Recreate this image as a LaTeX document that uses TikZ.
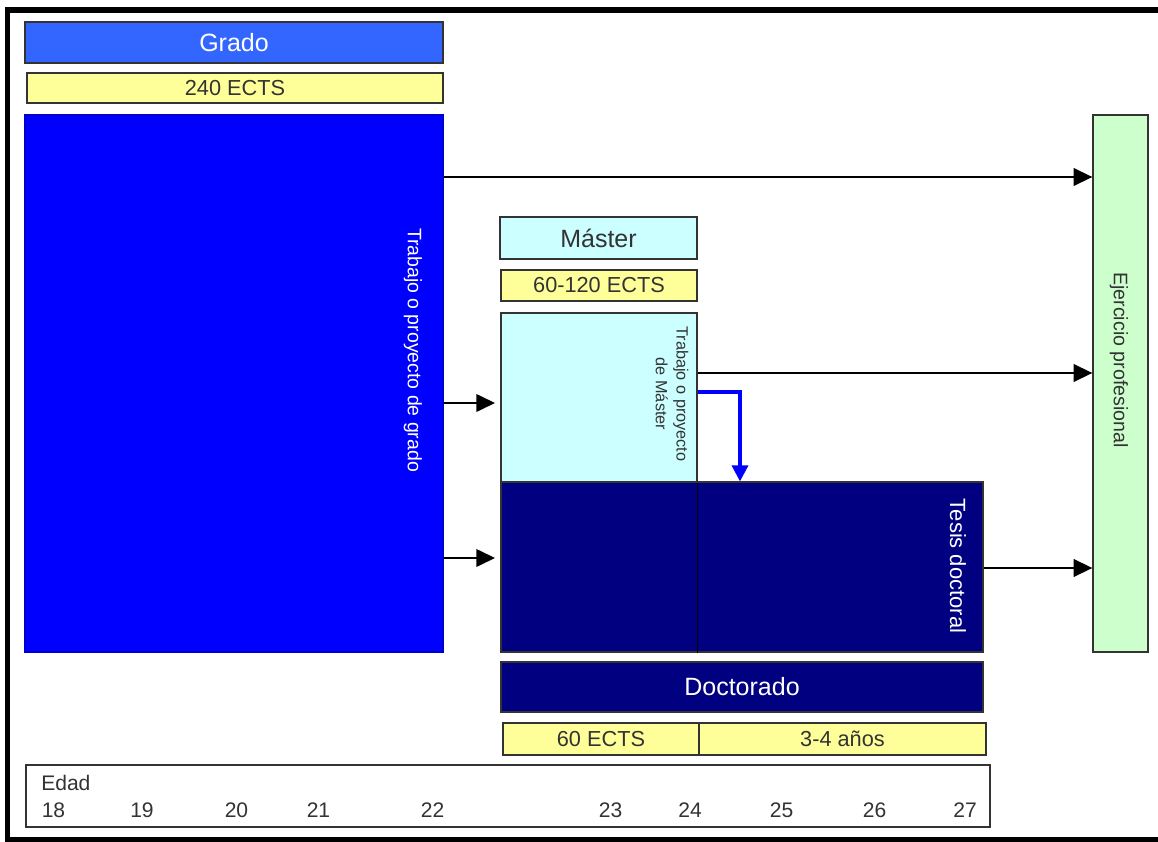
\documentclass[tikz,border=0pt]{standalone}
\usepackage{fontspec}
\setmainfont{Liberation Sans}
\usetikzlibrary{fit,arrows.meta}
\definecolor{gradoblue}{HTML}{3366FF}
\definecolor{ectsyellow}{HTML}{FFFF99}
\definecolor{bigblue}{HTML}{0000FF}
\definecolor{mastercyan}{HTML}{CCFFFF}
\definecolor{navy}{HTML}{000080}
\definecolor{ejgreen}{HTML}{CCFFCC}
\definecolor{txtdark}{HTML}{333333}
\tikzset{
  boxed/.style={draw=txtdark, line width=0.9pt, inner sep=0pt},
  bigtext/.style={font=\fontsize{18.75}{22}\selectfont, text=txtdark},
  ectstext/.style={font=\fontsize{16.3}{19}\selectfont, text=txtdark},
  agetext/.style={font=\fontsize{15.8}{18}\selectfont, text=txtdark, inner sep=0pt},
  arr/.style={line width=1.9pt, -{Triangle[length=14pt,width=13pt]}},
  bluearr/.style={draw=bigblue, line width=2.6pt, -{Triangle[length=12pt,width=12pt]}},
}
\begin{document}
\begin{tikzpicture}[x=0.75pt,y=-0.75pt]
\useasboundingbox (0,0) rectangle (1158,842);
\fill[white] (0,0) rectangle (1158,842);
% outer frame
\draw[line width=3.8pt] (1162,10) -- (7.5,10) -- (7.5,840) -- (1162,840);

% Grado
\node[boxed, fill=gradoblue, fit={(25,22)(443,63)}] (grado) {};
\node[bigtext, text=white] (gradotxt) at (grado.center) {Grado};
\node[boxed, fill=ectsyellow, fit={(27,73)(443,103)}] (gects) {};
\node[ectstext] (gectstxt) at (gects.center) {240 ECTS};
\node[boxed, draw=bigblue!80!black, fill=bigblue, fit={(25,115)(443,652)}] (gbox) {};
\node[rotate=-90, text=white, font=\fontsize{14.6}{17}\selectfont] (gtxt) at (413,350) {Trabajo o proyecto de grado};

% Ejercicio profesional
\node[boxed, fill=ejgreen, fit={(1093,115)(1148,652)}] (ej) {};
\node[rotate=-90, text=txtdark, font=\fontsize{14.7}{17}\selectfont] (ejtxt) at (1119,360) {Ejercicio profesional};

% Master
\node[boxed, fill=mastercyan, fit={(500,217)(697,259)}] (master) {};
\node[bigtext] (mastertxt) at (master.center) {Máster};
\node[boxed, fill=ectsyellow, fit={(501,270)(697,301)}] (mects) {};
\node[ectstext] (mectstxt) at (mects.center) {60-120 ECTS};
\node[boxed, fill=mastercyan, fit={(501,313)(697,482)}] (mbox) {};
\node[rotate=-90, text=txtdark, align=center, font=\fontsize{12.2}{15.5}\selectfont] (mtxt) at (672,394) {Trabajo o proyecto\\de Máster};

% Doctorado
\node[boxed, fill=navy, fit={(501,482)(983,652)}] (dbox) {};
\draw[line width=1.1pt, black] (mbox.south east) -- (dbox.south -| mbox.east);
\node[rotate=-90, text=white, font=\fontsize{16.5}{19}\selectfont] (dtxt) at (958,566) {Tesis doctoral};
\node[boxed, fill=navy, fit={(501,662)(983,712)}] (doct) {};
\node[bigtext, text=white] (docttxt) at (doct.center) {Doctorado};
\node[boxed, fill=ectsyellow, fit={(503,723)(699,755)}] (dects) {};
\node[ectstext] (dectstxt) at (dects.center) {60 ECTS};
\node[boxed, fill=ectsyellow, fit={(699,723)(986,755)}] (danos) {};
\node[ectstext] (danostxt) at (danos.center) {3-4 años};

% Edad
\node[boxed, fill=white, fit={(26,765)(990,827)}] (edad) {};
\node[agetext, anchor=west] (edadlbl) at (41,783) {Edad};
\foreach \n/\x in {18/53.5,19/142,20/236.5,21/318.5,22/432.5,23/610.5,24/690,25/781.5,26/874.5,27/965}{
  \node[agetext] (age\n) at (\x,810) {\n};
}

% connectors
\coordinate (r1) at (0,177);
\coordinate (r2) at (0,403);
\coordinate (r3) at (0,558);
\coordinate (r4) at (0,373);
\coordinate (r5) at (0,392);
\coordinate (r6) at (0,568);
\coordinate (bx) at (740,0);
\draw[arr] (gbox.east |- r1) -- (ej.west |- r1);
\draw[arr, shorten >=4pt] (gbox.east |- r2) -- (mbox.west |- r2);
\draw[arr, shorten >=4pt] (gbox.east |- r3) -- (dbox.west |- r3);
\draw[arr] (mbox.east |- r4) -- (ej.west |- r4);
\draw[arr] (dbox.east |- r6) -- (ej.west |- r6);
\draw[bluearr] (mbox.east |- r5) -| (dbox.north -| bx);
\end{tikzpicture}
\end{document}
